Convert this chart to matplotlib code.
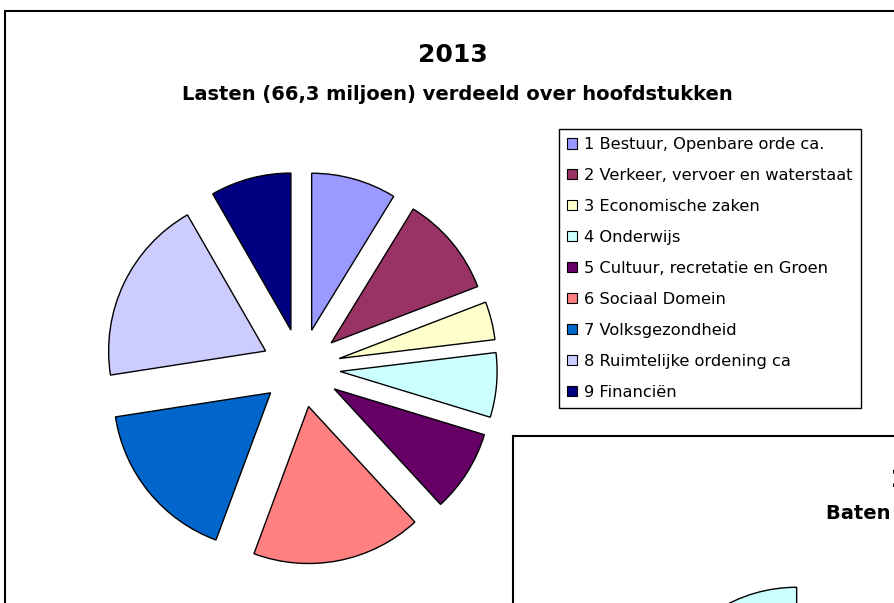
import matplotlib
matplotlib.use('Agg')
import matplotlib.pyplot as plt
from matplotlib.patches import Rectangle

plt.rcParams['font.family'] = ['DejaVu Sans']

# lasten 2013 per hoofdstuk (miljoen)
hoofdstukken = ['1 Bestuur, Openbare orde ca.', '2 Verkeer, vervoer en waterstaat',
                '3 Economische zaken', '4 Onderwijs', '5 Cultuur, recretatie en Groen',
                '6 Sociaal Domein', '7 Volksgezondheid', '8 Ruimtelijke ordening ca',
                '9 Financiën']
lasten = [5.8, 6.9, 2.6, 4.4, 5.6, 11.6, 11.2, 12.7, 5.5]
kleuren = ['#9999FF', '#993366', '#FFFFCC', '#CCFFFF', '#660066',
           '#FF8080', '#0066CC', '#CCCCFF', '#000080']

# tweede grafiek (baten), valt grotendeels buiten beeld
baten = [30.0, 8.0, 6.0, 10.0, 6.3, 6.0]
baten_kleuren = ['#9999FF', '#993366', '#FFFFCC', '#660066', '#FF8080', '#CCFFFF']

W, H = 894, 603
def fx(x):
    return x / W
def fy(y):
    return 1 - y / H

fig = plt.figure(figsize=(W / 100, H / 100), dpi=100)
fig.patch.set_facecolor('white')

# kader eerste grafiek
fig.patches.append(Rectangle((fx(5), -0.2), 1.5, fy(11) + 0.2, transform=fig.transFigure,
                             fill=False, ec='black', lw=1.5, zorder=1))

# taart lasten
R = 157.0
half = 220.0
ax = fig.add_axes([fx(301 - half), fy(368 + half), 2 * half / W, 2 * half / H])
wedges, _ = ax.pie(lasten, colors=kleuren, explode=[0.25] * len(lasten), startangle=90,
                   counterclock=False, wedgeprops=dict(edgecolor='black', linewidth=1))
ax.set_xlim(-half / R, half / R)
ax.set_ylim(-half / R, half / R)
ax.set_aspect('equal')
ax.axis('off')

fig.text(fx(453), fy(61.5), '2013', ha='center', va='baseline', fontsize=18, fontweight='bold')
fig.text(fx(457.5), fy(100.5), 'Lasten (66,3 miljoen) verdeeld over hoofdstukken',
         ha='center', va='baseline', fontsize=14, fontweight='bold')

leg = fig.legend(wedges, hoofdstukken, loc='upper left', bbox_to_anchor=(fx(559), fy(129)),
                 frameon=True, fancybox=False, edgecolor='black', framealpha=1,
                 borderaxespad=0, fontsize=11.7, handlelength=0.6, handleheight=0.6,
                 handletextpad=0.45, labelspacing=0.98, borderpad=0.5)
leg.get_frame().set_linewidth(1.0)
for h in leg.legend_handles:
    h.set_edgecolor('black')
    h.set_linewidth(0.8)

# tweede grafiek (baten)
fig.patches.append(Rectangle((fx(512.7), -0.2), 1.5, fy(435.7) + 0.2, transform=fig.transFigure,
                             fc='white', ec='black', lw=1.5, zorder=2))
R2 = 150.0
ax2 = fig.add_axes([fx(807.6 - half), fy(774.7 + half), 2 * half / W, 2 * half / H], zorder=3)
ax2.pie(baten, colors=baten_kleuren, explode=[0.26] * len(baten), startangle=90,
        counterclock=False, wedgeprops=dict(edgecolor='black', linewidth=1))
ax2.set_xlim(-half / R2, half / R2)
ax2.set_ylim(-half / R2, half / R2)
ax2.set_aspect('equal')
ax2.axis('off')

fig.text(fx(891), fy(486.7), '2013', ha='left', va='baseline', fontsize=18,
         fontweight='bold', zorder=4)
fig.text(fx(826), fy(519), 'Baten (66,3 miljoen) verdeeld over hoofdstukken', ha='left',
         va='baseline', fontsize=14, fontweight='bold', zorder=4)

fig.savefig('out.png', dpi=100)
